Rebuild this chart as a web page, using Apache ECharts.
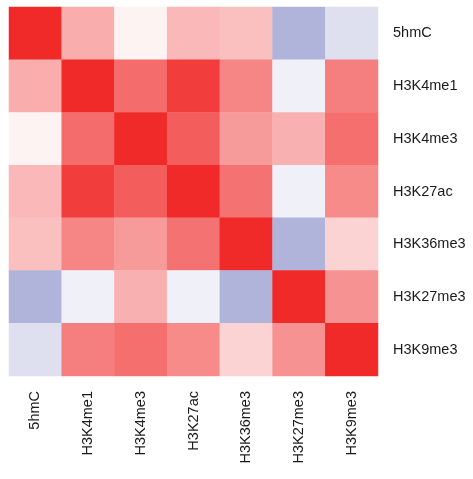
<!DOCTYPE html>
<html><head><meta charset="utf-8">
<script src="https://cdn.jsdelivr.net/npm/echarts@6/dist/echarts.min.js"></script>
<style>html,body{margin:0;padding:0;background:#fff}#c{width:473px;height:479px}</style>
</head><body><div id="c"></div>
<script>
const labels = ["5hmC","H3K4me1","H3K4me3","H3K27ac","H3K36me3","H3K27me3","H3K9me3"];
const row0 = [1, 0.385, 0.056, 0.333, 0.30, -0.4, -0.17];
const row1 = [0.385, 1, 0.69, 0.906, 0.57, -0.08, 0.60];
const row2 = [0.056, 0.69, 1, 0.755, 0.47, 0.37, 0.676];
const row3 = [0.333, 0.906, 0.755, 1, 0.66, -0.08, 0.545];
const row4 = [0.30, 0.57, 0.47, 0.66, 1, -0.4, 0.207];
const row5 = [-0.4, -0.08, 0.37, -0.08, -0.4, 1, 0.51];
const row6 = [-0.17, 0.60, 0.676, 0.545, 0.207, 0.51, 1];
const rows = [row0,row1,row2,row3,row4,row5,row6];
const data = [];
rows.forEach((r,i)=>r.forEach((v,j)=>data.push([j,i,v])));
const chart = echarts.init(document.getElementById('c'));
const font = {fontFamily:'Liberation Sans, Arial, sans-serif', fontSize:14.5, color:'#1a1a1a'};
chart.setOption({
  animation:false,
  grid:{left:9, top:7, width:369, height:369},
  xAxis:{type:'category', data:labels, position:'bottom',
    axisLine:{show:false}, axisTick:{show:false}, splitLine:{show:false},
    axisLabel:Object.assign({rotate:90, margin:15, interval:0}, font)},
  yAxis:{type:'category', data:labels, position:'right', inverse:true,
    axisLine:{show:false}, axisTick:{show:false}, splitLine:{show:false},
    axisLabel:Object.assign({margin:15, interval:0}, font)},
  visualMap:{show:false, type:'continuous', min:-1, max:1, dimension:2,
    inRange:{color:['#3A44A2','#FFFFFF','#EF2A29']}},
  series:[{type:'heatmap', data:data, itemStyle:{borderWidth:0}, emphasis:{disabled:true}}]
});
</script></body></html>
